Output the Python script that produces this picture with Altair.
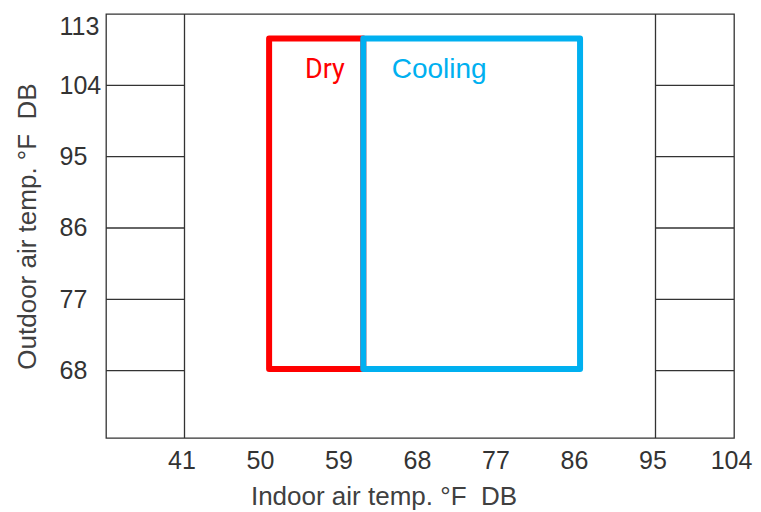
import altair as alt
import pandas as pd

# Axis ticks
x_ticks = [41, 50, 59, 68, 77, 86, 95, 104]
y_ticks = [68, 77, 86, 95, 104, 113]

# Frame / grid structure (data units)
v_rule_x = [41, 95]
h_rule_y = [68, 77, 86, 95, 104]
left_seg = [32, 41]
right_seg = [95, 104]

# Operating ranges
modes = ["Dry", "Cooling"]
indoor_min = [50.7, 61.5]
indoor_max = [61.5, 86.35]
outdoor_min = [68.2, 68.2]
outdoor_max = [109.9, 109.9]
mode_colors = ["#FF0000", "#00B0F0"]

# Label anchors
label_x = [57.1, 70.2]
label_y = [104.9, 104.9]

X_DOMAIN = [32, 104]
Y_DOMAIN = [59.5, 113]

xs = alt.Scale(domain=X_DOMAIN, nice=False, zero=False)
ys = alt.Scale(domain=Y_DOMAIN, nice=False, zero=False)
cs = alt.Scale(domain=modes, range=mode_colors)

FONT = "Liberation Sans"
NB = "\u00a0"

vrules = pd.DataFrame({"x": v_rule_x})
hrules = pd.DataFrame(
    [{"x": left_seg[0], "x2": left_seg[1], "y": y} for y in h_rule_y]
    + [{"x": right_seg[0], "x2": right_seg[1], "y": y} for y in h_rule_y]
)
boxes = pd.DataFrame({
    "mode": modes, "x": indoor_min, "x2": indoor_max,
    "y": outdoor_min, "y2": outdoor_max,
})
labels = pd.DataFrame({"mode": modes, "x": label_x, "y": label_y})

x_axis = alt.Axis(
    values=x_ticks, title=f"Indoor air temp. °F{NB} DB", grid=False, domain=False,
    ticks=False, labelPadding=10, labelFlush=False, labelOffset=-3,
    labelFont=FONT, labelFontSize=25, labelColor="#333333",
    titleFont=FONT, titleFontSize=26, titleFontWeight="normal", titleColor="#404040",
    titleX=277.5, titleY=66, titleAlign="center", titleBaseline="alphabetic",
    labelOverlap=False,
)
y_axis = alt.Axis(
    values=y_ticks, title=f"Outdoor air temp. °F{NB} DB", grid=False, domain=False,
    ticks=False, labelPadding=47, labelAlign="left",
    labelBaseline={"condition": {"test": "datum.value >= 113", "value": "top"}, "value": "middle"},
    labelFlush=False, labelFont=FONT, labelFontSize=25, labelColor="#333333",
    titleFont=FONT, titleFontSize=26, titleFontWeight="normal", titleColor="#404040",
    titleX=-71, titleY=212, titleAngle=270, titleAlign="center", titleBaseline="alphabetic",
    labelOverlap=False,
)

rects = alt.Chart(boxes).mark_rect(
    filled=False, strokeWidth=6, strokeJoin="round"
).encode(
    x=alt.X("x:Q", scale=xs, axis=x_axis),
    x2="x2:Q",
    y=alt.Y("y:Q", scale=ys, axis=y_axis),
    y2="y2:Q",
    color=alt.Color("mode:N", scale=cs, legend=None),
)

vr = alt.Chart(vrules).mark_rule(color="#333333", strokeWidth=1.3).encode(
    x=alt.X("x:Q", scale=xs),
)

hr = alt.Chart(hrules).mark_rule(color="#333333", strokeWidth=1.3).encode(
    x=alt.X("x:Q", scale=xs),
    x2="x2:Q",
    y=alt.Y("y:Q", scale=ys),
)

dry_text = alt.Chart(labels).transform_filter(alt.datum.mode == "Dry").mark_text(
    font="Roboto", fontSize=27, align="center", baseline="alphabetic"
).encode(
    x=alt.X("x:Q", scale=xs),
    y=alt.Y("y:Q", scale=ys),
    text="mode:N",
    color=alt.Color("mode:N", scale=cs, legend=None),
)
cool_text = alt.Chart(labels).transform_filter(alt.datum.mode == "Cooling").mark_text(
    font=FONT, fontSize=28, align="center", baseline="alphabetic"
).encode(
    x=alt.X("x:Q", scale=xs),
    y=alt.Y("y:Q", scale=ys),
    text="mode:N",
    color=alt.Color("mode:N", scale=cs, legend=None),
)

chart = alt.layer(rects, vr, hr, dry_text, cool_text).properties(
    width=628, height=424,
    autosize=alt.AutoSizeParams(type="none"),
    padding={"left": 98, "top": 6, "right": 19, "bottom": 74},
    background="white",
).configure_view(stroke="#333333", strokeWidth=1.3)

chart.save("out.html", embed_options={"renderer": "svg", "actions": False})
